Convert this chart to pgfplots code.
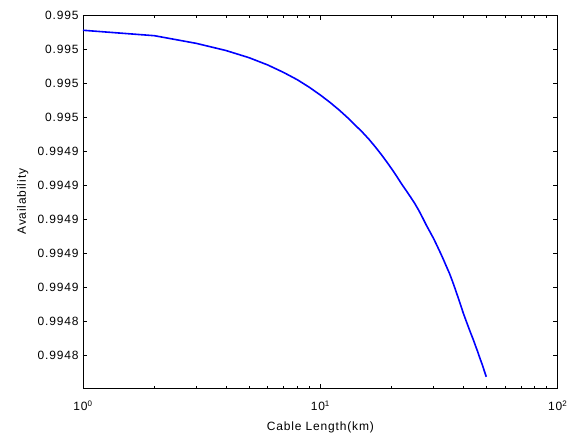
\documentclass[border=0pt]{standalone}
\usepackage{fontspec}
\setmainfont{Liberation Sans}[LetterSpace=7]
\usepackage{pgfplots}
\usepackage{pgfplotstable}
\pgfplotsset{compat=1.18}
\pgfplotstableread{
x y
1 0.9950112
2 0.9950080
3 0.9950035
4 0.9949993
5 0.9949951
6 0.9949908
7 0.9949864
8 0.9949821
9 0.9949776
10 0.9949731
11 0.9949687
12 0.9949643
13 0.9949599
14 0.9949555
15 0.9949514
16 0.9949472
17 0.9949428
18 0.9949384
19 0.9949340
20 0.9949296
21 0.9949252
22 0.9949208
23 0.9949169
24 0.9949131
25 0.9949093
26 0.9949052
27 0.9949008
28 0.9948964
29 0.9948925
30 0.9948887
31 0.9948846
32 0.9948805
33 0.9948764
34 0.9948722
35 0.9948682
36 0.9948637
37 0.9948590
38 0.9948543
39 0.9948496
40 0.9948449
41 0.9948408
42 0.9948369
43 0.9948331
44 0.9948296
45 0.9948258
46 0.9948222
47 0.9948184
48 0.9948149
49 0.9948111
50 0.9948074
}\avail
\begin{document}
\fontsize{12pt}{14pt}\selectfont
\begin{tikzpicture}
\useasboundingbox (-83pt,-44pt) rectangle (491pt,388pt);
\begin{axis}[
  at={(0,0)}, anchor=south west,
  scale only axis, width=474.7pt, height=372.7pt,
  xmode=log, xmin=1, xmax=100,
  ymin=0.9948008, ymax=0.99502,
  xtick={1,10,100},
  xticklabels={10\textsuperscript{0},10\textsuperscript{1},10\textsuperscript{2}},
  ytick={0.99502,0.995,0.99498,0.99496,0.99494,0.99492,0.9949,0.99488,0.99486,0.99484,0.99482},
  yticklabels={0.995,0.995,0.995,0.995,0.9949,0.9949,0.9949,0.9949,0.9949,0.9948,0.9948},
  scaled y ticks=false,
  tick align=inside,
  major tick length=4.5pt, minor tick length=2.5pt,
  every tick/.style={black, line width=0.7pt},
  axis line style={line width=0.9pt},
  xticklabel style={anchor=base, yshift=-22.7pt, font=\fontsize{12pt}{14pt}\selectfont},
  yticklabel style={anchor=east, xshift=-0.3pt, font=\fontsize{12pt}{14pt}\selectfont},
  xlabel={Cable Length(km)},
  ylabel={Availability},
  xlabel style={at={(axis description cs:0.5,-0.1146)}, anchor=base, font=\fontsize{12pt}{14pt}\selectfont},
  ylabel style={at={(axis description cs:-0.1201,0.5)}, anchor=base, rotate=0, font=\fontsize{12pt}{14pt}\selectfont},
]
\addplot[color={rgb,255:red,0;green,0;blue,255}, line width=1.6pt] table[x=x, y=y] {\avail};
\end{axis}
\end{tikzpicture}
\end{document}
